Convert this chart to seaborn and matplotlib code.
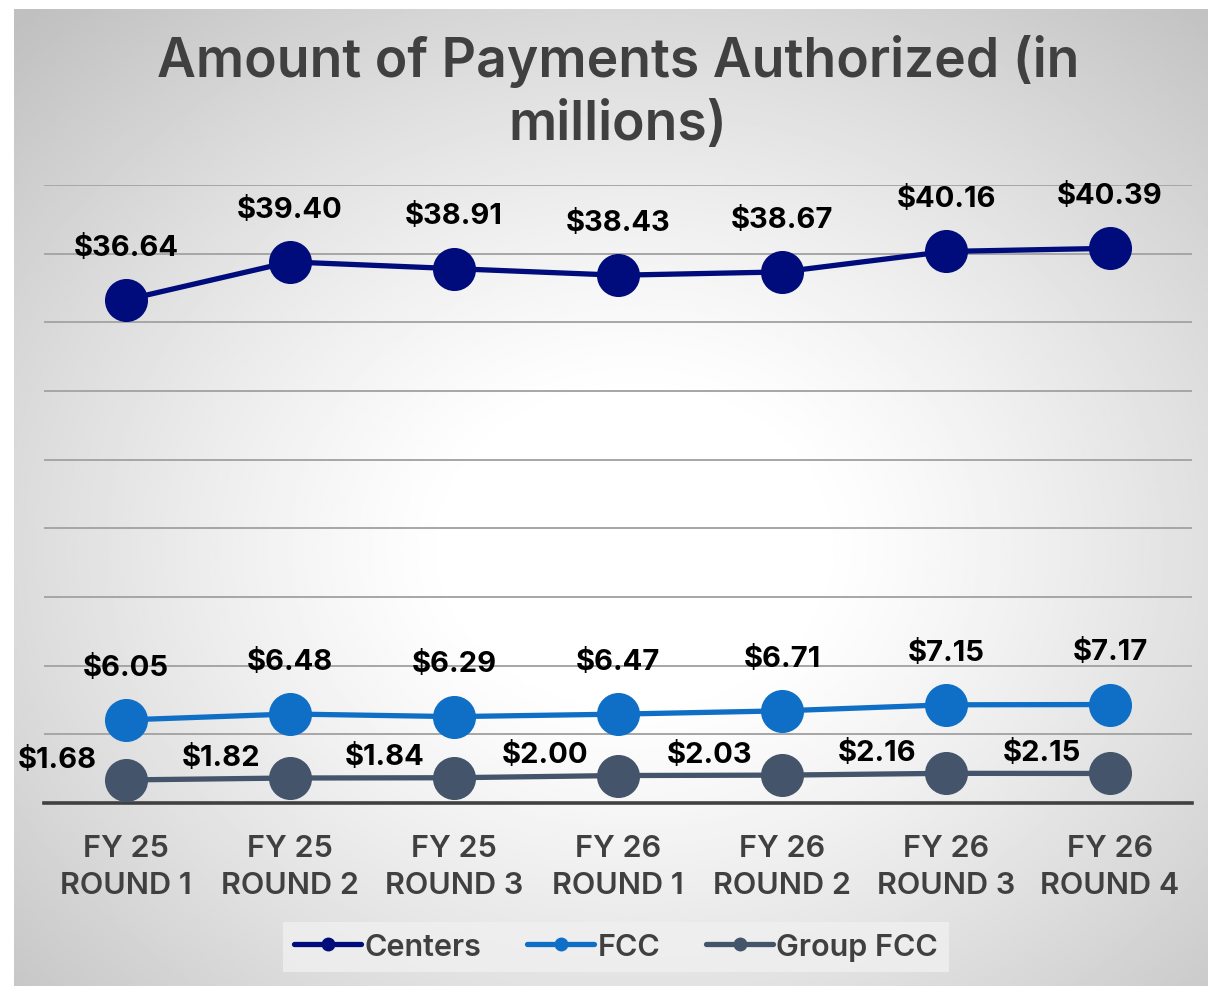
import numpy as np
import pandas as pd
import matplotlib
matplotlib.use("Agg")
import matplotlib.pyplot as plt
import seaborn as sns
from matplotlib.lines import Line2D

sns.set_style("white")
plt.rcParams['font.family'] = ['Inter', 'DejaVu Sans']

# data
periods = ["FY 25\nROUND 1", "FY 25\nROUND 2", "FY 25\nROUND 3", "FY 26\nROUND 1",
           "FY 26\nROUND 2", "FY 26\nROUND 3", "FY 26\nROUND 4"]
centers = [36.64, 39.40, 38.91, 38.43, 38.67, 40.16, 40.39]
fcc = [6.05, 6.48, 6.29, 6.47, 6.71, 7.15, 7.17]
group_fcc = [1.68, 1.82, 1.84, 2.00, 2.03, 2.16, 2.15]

series_names = ["Centers", "FCC", "Group FCC"]
series_colors = ["#000C7B", "#0F6FC6", "#44546A"]

df = pd.DataFrame({"Period": periods, "Centers": centers, "FCC": fcc, "Group FCC": group_fcc})

fig = plt.figure(figsize=(12.08, 9.87), dpi=100)

# radial gradient background
bg = fig.add_axes([14 / 1208, 0, 1 - 14 / 1208, 1 - 10 / 987], zorder=-5)
yy, xx = np.mgrid[0:1:400j, 0:1:400j]
r = np.sqrt(((xx - 0.52) / 0.6) ** 2 + ((yy - 0.55) / 0.6) ** 2)
v = 1 - 0.25 * np.clip((r - 0.25) / 1.0, 0, 1) ** 1.2
bg.imshow(v, cmap="gray", vmin=0, vmax=1, aspect="auto", origin="upper", extent=[0, 1, 0, 1])
bg.axis("off")

ax = fig.add_axes([44 / 1208, 183 / 987, 1148 / 1208, 618 / 987])
ax.set_facecolor("none")

for name, color in zip(series_names, series_colors):
    sns.lineplot(data=df, x="Period", y=name, color=color, linewidth=3.8,
                 marker="o", markersize=31, markeredgewidth=0, sort=False, ax=ax, zorder=3)

# data labels
for name in ["Centers", "FCC"]:
    for i, val in enumerate(df[name]):
        ax.annotate(f"${val:.2f}", (i, val), xytext=(0, 38), textcoords="offset points",
                    ha="center", va="center", fontsize=21, fontweight="bold", color="black")
for i, val in enumerate(df["Group FCC"]):
    ax.annotate(f"${val:.2f}", (i, val), xytext=(-21, 15), textcoords="offset points",
                ha="right", va="center", fontsize=21, fontweight="bold", color="black")

ax.set_xlim(-0.5, 6.5)
ax.set_ylim(0, 45)
ax.set_yticks(np.arange(0, 50, 5))
ax.yaxis.grid(True, color="#a6a6a6", linewidth=1.4)
ax.tick_params(axis="y", left=False, labelleft=False)
ax.tick_params(axis="x", bottom=False, pad=19)
ax.set_xticks(range(len(periods)))
ax.set_xticklabels(periods, fontsize=22, fontweight="semibold", color="#404040", linespacing=1.4)
ax.set_xlabel("")
ax.set_ylabel("")
for s in ["left", "right", "top"]:
    ax.spines[s].set_visible(False)
ax.spines["bottom"].set_color("#404040")
ax.spines["bottom"].set_linewidth(2.6)
ax.spines["bottom"].set_zorder(2)

fig.text(618 / 1208, 1 - 93 / 987, "Amount of Payments Authorized (in\nmillions)",
         ha="center", va="center", fontsize=38.5, fontweight="semibold", color="#404040",
         linespacing=1.32)

handles = [Line2D([0], [0], color=c, linewidth=3.8, marker="o", markersize=9) for c in series_colors]
leg = fig.legend(handles, series_names, loc="center", bbox_to_anchor=(616 / 1208, 1 - 948 / 987),
                 ncol=3, frameon=True, fontsize=22, handlelength=2.2, handletextpad=0.1,
                 columnspacing=1.5, borderpad=0.35, fancybox=False)
leg.get_frame().set_facecolor("#f0f0f0")
leg.get_frame().set_edgecolor("none")
for t in leg.get_texts():
    t.set_color("#404040")
    t.set_fontweight("semibold")

fig.savefig("out.png", dpi=100)
